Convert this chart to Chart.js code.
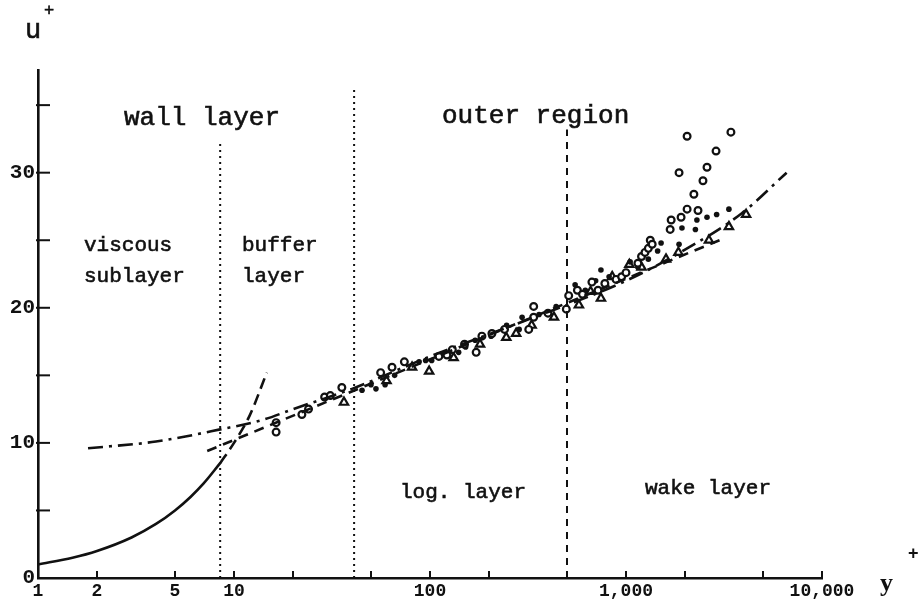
<!DOCTYPE html>
<html><head><meta charset="utf-8">
<script src="https://cdn.jsdelivr.net/npm/chart.js@4.4.1/dist/chart.umd.min.js"></script>
<style>html,body{margin:0;padding:0;background:#fff}#wrap{width:923px;height:605px}</style>
</head><body><div id="wrap"><canvas id="c" width="923" height="605"></canvas></div>
<script>
// axis ticks
const xTicks = [1,2,5,10,20,50,100,200,500,1000,2000,5000,10000];
const xTickLabels = ['1','2','5','10','','','100','','','1,000','','','10,000'];
const yTicks = [0,5,10,15,20,25,30,35];
const yTickLabels = ['0','','10','','20','','30',''];

// measured data (y+ , u+)
const circlesY = [16.4,16.4,22.2,24,29,31,35.5,56,64,74,111,122,130,150,172,184,207,240,319,338,338,400,496,510,565,600,670,720,780,890,950,1000,1150,1200,1250,1300,1330,1360,1680,1700,1910,2050,2330,2220,2470,2590,1865,2880,2050,3430];
const circlesU = [11.5,10.8,12.1,12.5,13.4,13.5,14.1,15.2,15.6,16.0,16.4,16.5,16.9,17.3,16.7,17.9,18.1,18.4,18.4,19.3,20.1,19.6,19.9,20.9,21.3,21.0,21.9,21.3,21.8,22.1,22.3,22.6,23.3,23.8,24.1,24.4,25.0,24.7,25.8,26.5,26.7,27.3,27.2,28.4,29.4,30.4,30.0,31.6,32.7,33.0];
const dotsY = [45,50,53,59,66,88,95,102,115,140,152,170,183,205,246,285,295,360,440,550,620,700,745,820,1050,1150,1300,1450,1510,1865,1930,2260,2300,2590,2900,3350];
const dotsU = [13.9,14.3,14.0,14.3,15.0,16.0,16.1,16.1,16.6,16.7,17.1,17.6,18.0,17.9,18.7,18.4,19.3,19.5,20.1,21.7,21.3,22.0,22.8,22.3,23.4,23.0,23.6,24.2,24.8,24.7,25.9,25.8,26.5,26.7,26.9,27.3];
const trianglesY = [36.4,60,81,99,132,180,245,275,330,429,575,660,745,850,1040,1200,1600,1850,2650,3350,4100];
const trianglesU = [13.0,14.6,15.6,15.3,16.3,17.3,17.8,18.1,18.7,19.3,20.2,21.2,20.7,22.3,23.2,23.0,23.6,24.1,25.0,26.0,26.9];

// reference curves
const sublayerY = [1,1.5,2,3,4,5,6,7,8.5];
const sublayerU = [1,1.5,2,3,4,5,6,7,8.5];
const bufferY = [8.5,10,12,14.7];
const bufferU = [8.5,10,12,15.2];
const compositeY = [1.8,4,8.5,14,20,40,100,300,1000,2000,3900,6600];
const compositeU = [9.6,10.1,11.0,11.7,12.5,14.0,16.4,19.0,22.0,24.3,27.0,30.0];
const logLawY = [7.3,3000];
const logLawU = [9.4,25.0];

// region boundaries
const boundaryY = [8.5,41,500];
const boundaryTop = [32.4,36.3,33.2];

const pts = (xs, ys) => xs.map((x,i)=>({x:x, y:ys[i]}));
const vline = i => [{x:boundaryY[i], y:0},{x:boundaryY[i], y:boundaryTop[i]}];

const lineDs = (data, dash, extra) => Object.assign({
  data, showLine:true, pointRadius:0, borderColor:'#111', borderWidth:2.6,
  borderDash:dash, fill:false, tension:0
}, extra||{});

const MONO = '"Liberation Mono", "DejaVu Sans Mono", monospace';

const decor = {
  id:'decor',
  afterDraw(chart){
    const ctx = chart.ctx, xs = chart.scales.x, ys = chart.scales.y;
    const ca = chart.chartArea;
    ctx.save();
    ctx.strokeStyle = '#111'; ctx.lineWidth = 2;
    xTicks.forEach(v=>{
      const p = xs.getPixelForValue(v);
      ctx.beginPath(); ctx.moveTo(p, ca.bottom+1); ctx.lineTo(p, ca.bottom-7); ctx.stroke();
    });
    yTicks.forEach(v=>{
      if (v===0) return;
      const p = ys.getPixelForValue(v);
      ctx.beginPath(); ctx.moveTo(ca.left-2, p); ctx.lineTo(ca.left+12, p); ctx.stroke();
    });
    ctx.fillStyle = '#111';
    ctx.textBaseline = 'middle'; ctx.textAlign = 'left';
    ctx.lineWidth = 0.6;
    const t = (s, x, y, size, fam) => { ctx.font = size+'px '+(fam||MONO); ctx.fillText(s, x, y); ctx.strokeText(s, x, y); };
    t('u', 25, 31, 27);
    t('+', 44, 10, 17);
    t('wall layer', 124, 118, 26);
    t('outer region', 442, 116, 26);
    t('viscous', 84, 245, 21);
    t('sublayer', 84, 276, 21);
    t('buffer', 242, 245, 21);
    t('layer', 242, 276, 21);
    t('log. layer', 400, 492, 21);
    t('wake layer', 645, 488, 21);
    ctx.font = 'bold 26px "Liberation Serif", serif';
    ctx.fillText('y', 880, 584);
    ctx.font = 'bold 18px "Liberation Sans", sans-serif';
    ctx.fillText('+', 908, 554);
    ctx.restore();
  }
};

new Chart(document.getElementById('c'), {
  type:'scatter',
  data:{ datasets:[
    lineDs(pts(sublayerY, sublayerU), [], {cubicInterpolationMode:'monotone'}),
    lineDs(pts(bufferY, bufferU), [11,6], {cubicInterpolationMode:'monotone'}),
    lineDs(pts(compositeY, compositeU), [15,6,3,6], {cubicInterpolationMode:'monotone'}),
    lineDs(pts(logLawY, logLawU), [10,7]),
    lineDs(vline(0), [2,4], {borderWidth:2}),
    lineDs(vline(1), [2,4], {borderWidth:2}),
    lineDs(vline(2), [7,6], {borderWidth:2}),
    { data:pts(circlesY, circlesU), pointStyle:'circle', pointRadius:3.4, borderWidth:2.2, borderColor:'#111', backgroundColor:'#fff' },
    { data:pts(dotsY, dotsU), pointStyle:'circle', pointRadius:2.8, borderWidth:0, backgroundColor:'#111' },
    { data:pts(trianglesY, trianglesU), pointStyle:'triangle', pointRadius:4.8, borderWidth:2.2, borderColor:'#111', backgroundColor:'#fff' }
  ]},
  options:{
    responsive:false, animation:false, devicePixelRatio:1,
    layout:{ padding:{ left:0, right:101, top:70, bottom:0 } },
    plugins:{ legend:{display:false}, tooltip:{enabled:false} },
    elements:{ point:{ hoverRadius:0 } },
    scales:{
      x:{
        type:'logarithmic', min:1, max:10000,
        afterBuildTicks(s){ s.ticks = xTicks.map(v=>({value:v})); },
        afterFit(s){ s.height = 27; },
        grid:{ display:false, drawTicks:false },
        border:{ display:true, color:'#111', width:2.6 },
        ticks:{ autoSkip:false, maxRotation:0, padding:3, color:'#111',
          font:{ family:MONO, size:18, weight:'bold' },
          callback:(v,i)=> xTickLabels[i] }
      },
      y:{
        type:'linear', min:0, max:37.6,
        afterBuildTicks(s){ s.ticks = yTicks.map(v=>({value:v})); },
        afterFit(s){ s.width = 38; },
        grid:{ display:false, drawTicks:false },
        border:{ display:true, color:'#111', width:2.6 },
        ticks:{ padding:3, color:'#111', font:{ family:MONO, size:21, weight:'bold' },
          callback:(v,i)=> yTickLabels[i] }
      }
    }
  },
  plugins:[decor]
});
</script></body></html>
